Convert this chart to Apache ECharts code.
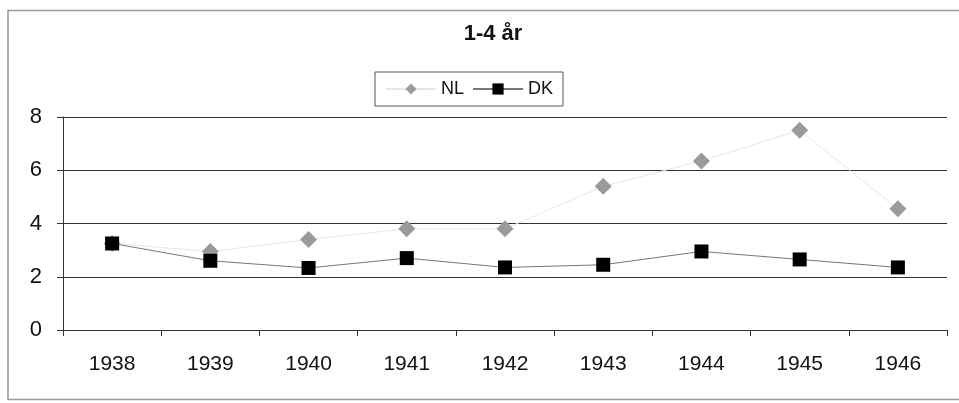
<!DOCTYPE html>
<html>
<head>
<meta charset="utf-8">
<script src="https://cdn.jsdelivr.net/npm/echarts@6/dist/echarts.min.js"></script>
<style>
html,body{margin:0;padding:0;background:#fff;}
#c{width:959px;height:403px;}
</style>
</head>
<body>
<div id="c"></div>
<script>
var years = ['1938','1939','1940','1941','1942','1943','1944','1945','1946'];
var nlValues = [3.25, 2.95, 3.4, 3.8, 3.8, 5.4, 6.35, 7.5, 4.55];
var dkValues = [3.25, 2.6, 2.33, 2.7, 2.35, 2.45, 2.95, 2.65, 2.35];
var yTicks = [0, 2, 4, 6, 8];

var FONT = '"Liberation Sans", Arial, sans-serif';
var chart = echarts.init(document.getElementById('c'), null, {renderer: 'canvas'});
chart.setOption({
  animation: false,
  backgroundColor: '#fff',
  textStyle: {fontFamily: FONT},
  title: {
    text: '1-4 år',
    left: 488, top: 18, textAlign: 'center',
    textStyle: {fontSize: 22, fontWeight: 'bold', color: '#111', fontFamily: FONT}
  },
  graphic: [{
    type: 'rect', silent: true, z: -1,
    shape: {x: 8, y: 10.5, width: 980, height: 389},
    style: {fill: 'none', stroke: '#999', lineWidth: 1.5}
  }],
  legend: {
    left: 375, top: 72,
    padding: [8, 10, 8, 10],
    borderColor: '#555', borderWidth: 1,
    itemGap: 8, itemWidth: 50, itemHeight: 14,
    textStyle: {fontSize: 18, color: '#111', fontFamily: FONT},
    data: ['NL', 'DK']
  },
  grid: {left: 63, right: 12, top: 117, bottom: 73},
  xAxis: {
    type: 'category',
    data: years,
    boundaryGap: true,
    axisLine: {show: true, lineStyle: {color: '#333', width: 1}},
    axisTick: {show: true, length: 6, lineStyle: {color: '#333'}},
    axisLabel: {fontSize: 21, color: '#111', margin: 24, fontFamily: FONT}
  },
  yAxis: {
    type: 'value',
    min: 0, max: 8, interval: 2,
    axisLine: {show: true, lineStyle: {color: '#333', width: 1}},
    axisTick: {show: true, length: 6, lineStyle: {color: '#333'}},
    axisLabel: {fontSize: 22, color: '#111', margin: 21, fontFamily: FONT,
      formatter: function (v) { return yTicks.indexOf(v) >= 0 ? String(v) : ''; }},
    splitLine: {show: true, lineStyle: {color: '#333', width: 1}}
  },
  series: [
    {
      name: 'NL', type: 'line', data: nlValues,
      symbol: 'diamond', symbolSize: [17, 17],
      itemStyle: {color: '#9a9a9a'},
      lineStyle: {color: '#e6e6e6', width: 1},
      z: 2
    },
    {
      name: 'DK', type: 'line', data: dkValues,
      symbol: 'rect', symbolSize: 14,
      itemStyle: {color: '#000'},
      lineStyle: {color: '#777', width: 1},
      z: 3
    }
  ]
});
</script>
</body>
</html>
